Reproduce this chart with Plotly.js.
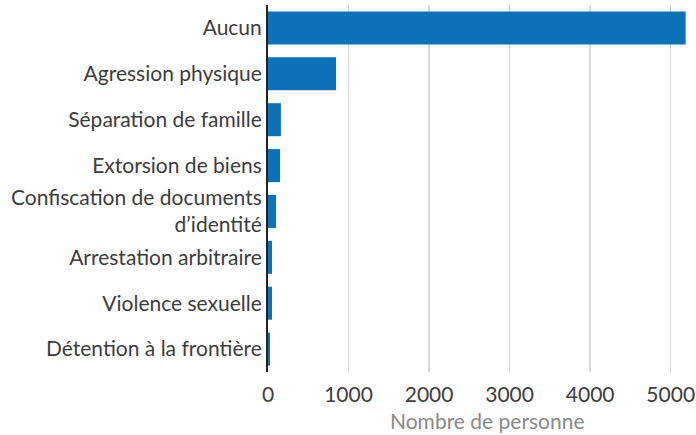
<!DOCTYPE html>
<html><head><meta charset="utf-8">
<script src="https://cdn.plot.ly/plotly-3.0.1.min.js"></script>
<style>html,body{margin:0;padding:0;background:#fff}</style>
</head><body>
<div id="chart" style="width:696px;height:435px"></div>
<script>
const categories = ["Aucun","Agression physique","Séparation de famille","Extorsion de biens","Confiscation de documents<br>d’identité","Arrestation arbitraire","Violence sexuelle","Détention à la frontière"];
const values = [5185, 845, 160, 150, 100, 50, 50, 25];
const xTicks = [0, 1000, 2000, 3000, 4000, 5000];
const xTitle = "Nombre de personne";

Plotly.newPlot("chart", [{
  type: "bar", orientation: "h",
  y: categories, x: values,
  marker: {color: "#0b72b9"},
  hoverinfo: "x+y"
}], {
  width: 696, height: 435,
  margin: {l: 268, r: 10, t: 5, b: 63},
  bargap: 0.28,
  font: {family: "Lato, sans-serif", size: 21, color: "#3d3d3d"},
  paper_bgcolor: "#fff", plot_bgcolor: "#fff",
  xaxis: {
    range: [0, 5190], tickvals: xTicks, ticktext: xTicks.map(String),
    showgrid: true, gridcolor: "#d9d9d9", gridwidth: 1.5, zeroline: false,
    tickfont: {size: 21, color: "#3d3d3d"},
    ticklabelstandoff: 8,
    ticks: "", fixedrange: true
  },
  yaxis: {
    autorange: "reversed", showline: true, linecolor: "#222", linewidth: 2,
    ticks: "", ticklen: 0, showgrid: false, zeroline: false,
    tickfont: {size: 21, color: "#3d3d3d"}, fixedrange: true
  },
  annotations: [{
    text: xTitle, xref: "paper", yref: "paper", x: 0.526, y: -0.131,
    xanchor: "center", yanchor: "middle", showarrow: false,
    font: {size: 21, color: "#8a8a8a"}
  }],
  showlegend: false
}, {displayModeBar: false, staticPlot: true});
</script>
</body></html>
